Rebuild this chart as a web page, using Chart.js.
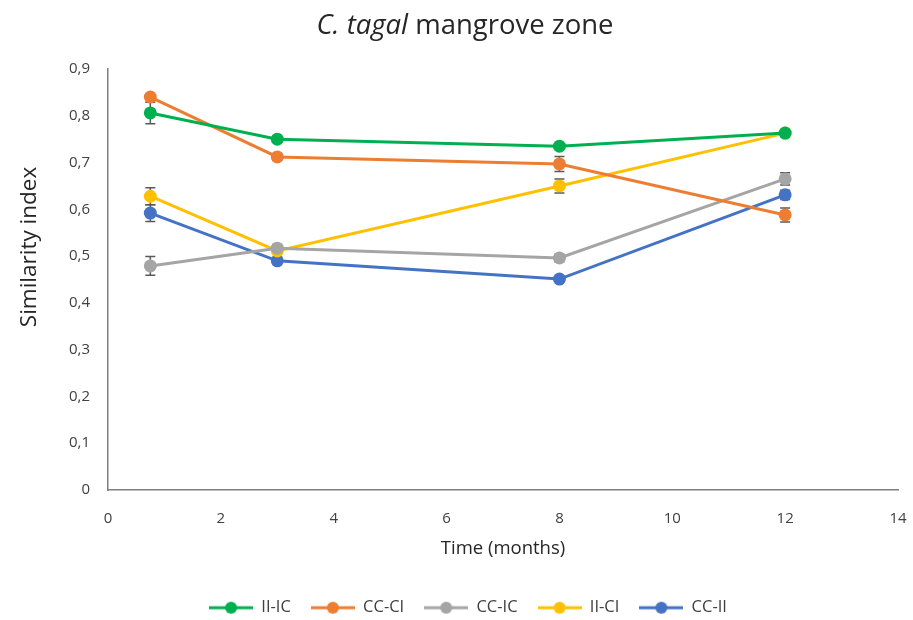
<!DOCTYPE html>
<html>
<head>
<meta charset="utf-8">
<script src="https://cdn.jsdelivr.net/npm/chart.js@4.4.1/dist/chart.umd.min.js"></script>
<style>
  html, body { margin: 0; padding: 0; background: #fff; overflow: hidden; }
  #wrap { position: relative; width: 913px; height: 620px; }
  #title { position: absolute; left: 0; width: 930px; top: 5px; text-align: center;
           font-family: "Open Sans", sans-serif; font-size: 27.5px; color: #262626; }
  #ytitle { position: absolute; left: -72px; top: 232px; width: 200px; height: 30px; line-height: 30px;
            text-align: center; transform: rotate(-90deg); transform-origin: 50% 50%;
            font-family: "Open Sans", sans-serif; font-size: 22.5px; color: #262626; white-space: nowrap; }
  canvas { position: absolute; left: 0; top: 0; }
</style>
</head>
<body>
<div id="wrap">
  <canvas id="c" width="913" height="620"></canvas>
  <div id="title"><i>C. tagal</i> mangrove zone</div>
  <div id="ytitle">Similarity index</div>
</div>
<script>
// Time points (months)
const months = [0.75, 3, 8, 12];
const seriesNames = ["II-IC", "CC-CI", "CC-IC", "II-CI", "CC-II"];
const seriesColors = ["#00b050", "#ed7d31", "#a5a5a5", "#ffc000", "#4472c4"];
// Similarity index values
const iiIc  = [0.806, 0.750, 0.735, 0.763];
const ccCi  = [0.840, 0.712, 0.697, 0.588];
const ccIc  = [0.479, 0.517, 0.496, 0.665];
const iiCi  = [0.628, 0.511, 0.650, 0.763];
const ccIi  = [0.592, 0.490, 0.451, 0.631];
// Error (± half-range)
const iiIcErr = [0.023, 0.005, 0.005, 0.004];
const ccCiErr = [0.005, 0.007, 0.016, 0.015];
const ccIcErr = [0.020, 0.008, 0.008, 0.013];
const iiCiErr = [0.018, 0.006, 0.015, 0.005];
const ccIiErr = [0.018, 0.006, 0.005, 0.010];
// Axis ticks
const yTicks = [0, 0.1, 0.2, 0.3, 0.4, 0.5, 0.6, 0.7, 0.8, 0.9];
const xTicks = [0, 2, 4, 6, 8, 10, 12, 14];

const values = [iiIc, ccCi, ccIc, iiCi, ccIi];
const errors = [iiIcErr, ccCiErr, ccIcErr, iiCiErr, ccIiErr];

function legendImg(color) {
  const cv = document.createElement('canvas');
  cv.width = 44; cv.height = 14;
  const g = cv.getContext('2d');
  g.strokeStyle = color; g.lineWidth = 3;
  g.beginPath(); g.moveTo(0, 7); g.lineTo(44, 7); g.stroke();
  g.fillStyle = color;
  g.beginPath(); g.arc(22, 7, 6, 0, Math.PI * 2); g.fill();
  return cv;
}
const legendImgs = seriesColors.map(legendImg);

const datasets = seriesNames.map((name, i) => ({
  label: name,
  data: months.map((m, j) => ({ x: m, y: values[i][j] })),
  borderColor: seriesColors[i],
  backgroundColor: seriesColors[i],
  borderWidth: 3,
  pointRadius: 6.5,
  pointHoverRadius: 6.5,
  pointBorderWidth: 0,
  tension: 0,
  errs: errors[i]
}));

const errorBars = {
  id: 'errorBars',
  beforeDatasetsDraw(chart) {
    const ctx = chart.ctx;
    const xs = chart.scales.x, ys = chart.scales.y;
    ctx.save();
    ctx.strokeStyle = '#595959';
    ctx.lineWidth = 1.5;
    chart.data.datasets.forEach(ds => {
      ds.data.forEach((p, j) => {
        const e = ds.errs[j];
        const px = xs.getPixelForValue(p.x);
        const top = ys.getPixelForValue(p.y + e);
        const bot = ys.getPixelForValue(p.y - e);
        ctx.beginPath();
        ctx.moveTo(px, top); ctx.lineTo(px, bot);
        ctx.moveTo(px - 5, top); ctx.lineTo(px + 5, top);
        ctx.moveTo(px - 5, bot); ctx.lineTo(px + 5, bot);
        ctx.stroke();
      });
    });
    ctx.restore();
  }
};

const font = "'Open Sans', sans-serif";
new Chart(document.getElementById('c'), {
  type: 'line',
  data: { datasets },
  plugins: [errorBars],
  options: {
    responsive: false,
    animation: false,
    events: [],
    layout: { padding: { left: 38, right: 15, top: 69, bottom: -6 } },
    plugins: {
      title: { display: false },
      tooltip: { enabled: false },
      legend: {
        position: 'bottom',
        labels: {
          usePointStyle: true,
          pointStyleWidth: 44,
          boxHeight: 14,
          padding: 20,
          color: '#404040',
          font: { family: font, size: 16.5 },
          generateLabels(chart) {
            return chart.data.datasets.map((ds, i) => ({
              text: ds.label,
              fillStyle: ds.backgroundColor,
              strokeStyle: ds.borderColor,
              lineWidth: 0,
              pointStyle: legendImgs[i],
              hidden: false,
              datasetIndex: i,
              fontColor: '#404040'
            }));
          }
        }
      }
    },
    scales: {
      x: {
        type: 'linear',
        min: 0, max: 14,
        afterBuildTicks(s) { s.ticks = xTicks.map(v => ({ value: v })); },
        grid: { display: false, drawTicks: false },
        border: { display: true, color: '#7f7f7f', width: 1.5 },
        ticks: { color: '#404040', font: { family: font, size: 15 }, padding: 20 },
        title: { display: true, text: 'Time (months)', color: '#262626',
                 font: { family: font, size: 18.5 }, padding: { top: 0, bottom: 19.5 } },
        afterFit(s) { s.height = 89.5; s.paddingRight = 0; s.paddingLeft = 0; }
      },
      y: {
        min: 0, max: 0.9,
        afterBuildTicks(s) { s.ticks = yTicks.map(v => ({ value: v })); },
        grid: { display: false, drawTicks: false },
        border: { display: true, color: '#7f7f7f', width: 1.5 },
        ticks: { color: '#404040', font: { family: font, size: 15 }, padding: 18,
                 callback: v => v === 0 ? '0' : v.toFixed(1).replace('.', ',') },
        title: { display: false },
        afterFit(s) { s.width = 70; }
      }
    }
  }
});
</script>
</body>
</html>
